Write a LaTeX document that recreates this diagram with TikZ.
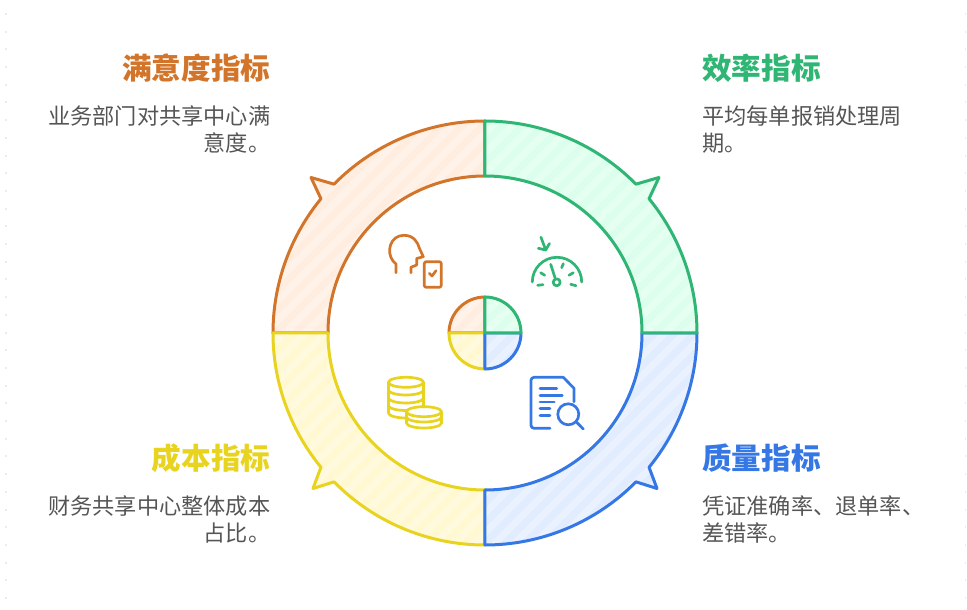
\documentclass[tikz,border=0pt]{standalone}
\usepackage{fontspec}
\setmainfont{Noto Sans CJK SC}
\usetikzlibrary{positioning}

\definecolor{orangeline}{HTML}{D2752A}
\definecolor{orangefill}{HTML}{FFEDE0}
\definecolor{greenline}{HTML}{2FB574}
\definecolor{greenfill}{HTML}{DBFFEC}
\definecolor{blueline}{HTML}{3578E5}
\definecolor{bluefill}{HTML}{E1ECFF}
\definecolor{yellowline}{HTML}{E8D31E}
\definecolor{yellowfill}{HTML}{FFF8D0}
\definecolor{bodytext}{HTML}{555555}

% one quarter of the ring and of the small disc, first quadrant
\newcommand{\ringpath}{(0,157) -- (0,212) arc[start angle=90, end angle=44.6, radius=212pt]
    -- (\tipx,155.5) -- (39.3:212pt) arc[start angle=39.3, end angle=0, radius=212pt]
    -- (157,0) arc[start angle=0, end angle=90, radius=157pt] -- cycle}
\newcommand{\piepath}{(0,0) -- (0,36) arc[start angle=90, end angle=0, radius=36pt] -- cycle}

\begin{document}
\begin{tikzpicture}
    [
        x=1pt, y=1pt,
        line join=round,
        ring/.style={line width=3pt},
        icon/.style={line width=2.7pt, line cap=round},
        coinarc/.style={start angle=180, end angle=360, x radius=17.5pt, y radius=5pt},
        stripe/.style={white, opacity=0.3, line width=7pt},
        title/.style={font=\fontsize{29.6}{36}\selectfont\bfseries, inner sep=0pt},
        textleft/.style={font=\fontsize{22.2}{27}\selectfont, text=bodytext, inner sep=0pt, align=left},
        textright/.style={font=\fontsize{22.2}{27}\selectfont, text=bodytext, inner sep=0pt, align=right}
    ]
        \useasboundingbox (-485,-277) rectangle (482,333);

        % --- faint margin ---
        \foreach \xx in {-479,480.5}
            \draw [black!8, line width=1.5pt, dash pattern=on 2pt off 15.7pt] (\xx,320) -- (\xx,-270);

        % --- ring and small disc ---
        \foreach \shape in {\ringpath, \piepath} {
            \foreach \sx/\sy/\tone/\tipx in {-1/1/orange/174, -1/-1/yellow/172, 1/-1/blue/172, 1/1/green/174} {
                \fill [\tone fill, xscale=\sx, yscale=\sy] \shape;
                \begin{scope}
                    \clip [xscale=\sx, yscale=\sy] \shape;
                    \foreach \s in {-520,-500,...,520}
                        \draw [stripe] (\s-300,-300) -- (\s+300,300);
                \end{scope}
                \draw [ring, \tone line, xscale=\sx, yscale=\sy] \shape;
            }
        }

        % --- satisfaction icon ---
        \begin{scope}[shift={(-485,333)}, y=-1pt, icon, orangeline]
            \draw (396,272.7) -- (396,264) -- (393,261) .. controls (386,252) and (390,235.3) .. (404,235.3)
                .. controls (414,235.3) and (418,243) .. (419.3,248) -- (423.3,256.7) -- (416.7,258.5)
                -- (416.7,265) -- (411,267.3) -- (411,272.7);
            \draw [rounded corners=2pt] (424.3,261.7) rectangle (441.3,287.3);
            \draw (429.3,273.3) -- (432,276) -- (436,270.7);
        \end{scope}

        % --- speed icon ---
        \begin{scope}[shift={(-485,333)}, y=-1pt, icon, greenline]
            \draw (532.3,282) arc[start angle=180, end angle=0, radius=24.7pt];
            \draw (541,237.3) -- (545.7,250);
            \draw (538.3,248.3) -- (545.7,250) -- (549.5,243.5);
            \draw (550.7,264.3) -- (555,277.7);
            \draw (556.7,282.3) circle [radius=3.5pt];
            \draw (540.7,272.7) -- (544.7,275.3);
            \draw (561.7,267.7) -- (563.3,263.7);
            \draw (569,275.3) -- (573.3,272.7);
            \draw (537.7,285.3) -- (543,284.7);
            \draw (570.7,284.3) -- (576,285.7);
        \end{scope}

        % --- coins icon ---
        \begin{scope}[shift={(-485,333)}, y=-1pt, icon, yellowline]
            \draw (388.5,382.3) -- (388.5,413) arc[coinarc] -- (423.5,382.3);
            \draw (406,382.3) ellipse [x radius=17.5pt, y radius=5pt];
            \foreach \yy in {390,398,405.5}
                \draw (388.5,\yy) arc[coinarc];
            \draw [fill=white] (406.5,411.7) -- (406.5,423) arc[coinarc] -- (441.5,411.7);
            \draw [fill=white] (424,411.7) ellipse [x radius=17.5pt, y radius=5pt];
            \draw (406.5,417) arc[coinarc];
        \end{scope}

        % --- document icon ---
        \begin{scope}[shift={(-485,333)}, y=-1pt, icon, blueline]
            \draw [rounded corners=3pt] (550,428.3) -- (531,428.3) -- (531,377.3) -- (563.3,377.3);
            \draw (563.3,377.3) -- (574,388.3) -- (574,401.7);
            \draw (540,388.7) -- (556.7,388.7);
            \draw (540,395.3) -- (562.3,395.3);
            \draw (540,402) -- (554.3,402);
            \draw (540,408.7) -- (550,408.7);
            \draw (540,415.3) -- (550,415.3);
            \draw (568.3,414.3) circle [radius=10.5pt];
            \draw (576.7,422.3) -- (583.3,429);
        \end{scope}

        % =========================================================================
        % TEXTS
        % =========================================================================
        \node [title, orangeline, anchor=east] (satisfaction) at (-214.5,265) {满意度指标};
        \node [textright, below=23pt of satisfaction.south east, anchor=north east] (satisfactiontext) {业务部门对共享中心满\\意度。};
        \node [title, greenline, anchor=west] (efficiency) at (217,265) {效率指标};
        \node [textleft, below=23pt of efficiency.south west, anchor=north west] (efficiencytext) {平均每单报销处理周\\期。};
        \node [title, yellowline, anchor=east] (cost) at (-214.5,-125) {成本指标};
        \node [textright, below=23pt of cost.south east, anchor=north east] (costtext) {财务共享中心整体成本\\占比。};
        \node [title, blueline, anchor=west] (quality) at (217,-125) {质量指标};
        \node [textleft, below=23pt of quality.south west, anchor=north west] (qualitytext) {凭证准确率、退单率、\\差错率。};
\end{tikzpicture}
\end{document}
